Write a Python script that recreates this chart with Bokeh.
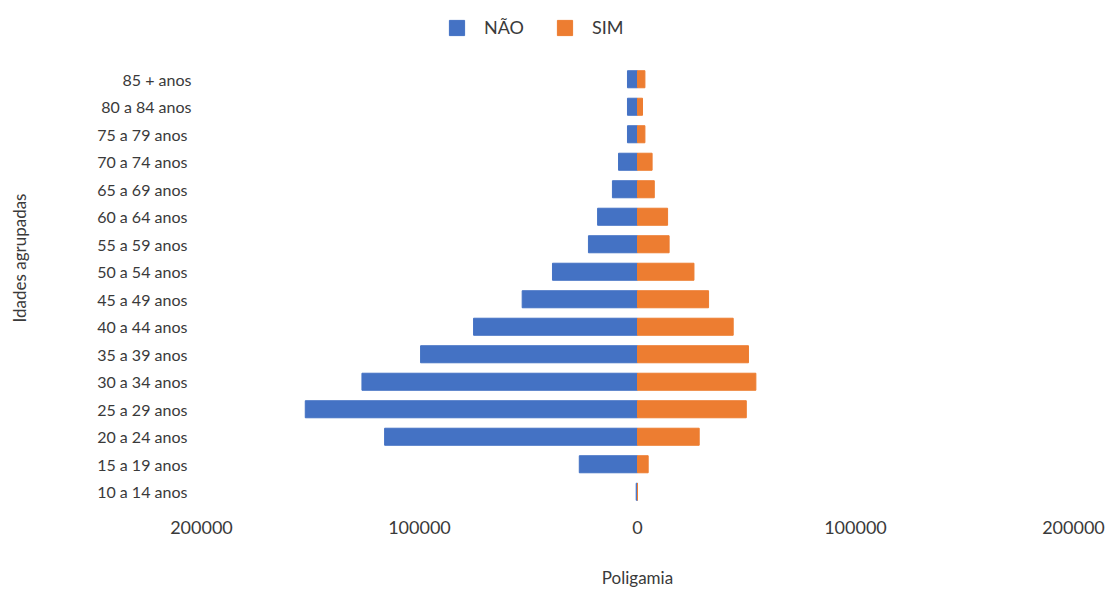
from bokeh.plotting import figure
from bokeh.models import ColumnDataSource, Range1d, FixedTicker, Legend, LegendItem
from bokeh.embed import file_html
from bokeh.resources import INLINE

# Age groups, youngest first (bottom of the pyramid)
age_groups = [
    "10 a 14  anos", "15 a 19  anos", "20 a 24  anos", "25 a 29  anos",
    "30 a 34  anos", "35 a 39  anos", "40 a 44  anos", "45 a 49  anos",
    "50 a 54  anos", "55 a 59  anos", "60 a 64  anos", "65 a 69  anos",
    "70 a 74  anos", "75 a 79  anos", "80 a 84 anos", "85 + anos",
]
nao = [600, 26700, 116000, 152400, 126400, 99500, 75200, 52900,
       39000, 22500, 18300, 11500, 8700, 4600, 4600, 4600]
sim = [0, 4900, 28300, 49900, 54300, 50900, 43900, 32600,
       25900, 14500, 13800, 7700, 6700, 3400, 2300, 3400]

x_ticks = [-200000, -100000, 0, 100000, 200000]
x_tick_labels = ["200000", "100000", "0", "100000", "200000"]

FONT = "Lato"
TEXT = "#3a3a3a"
BLUE = "#4472C4"
ORANGE = "#ED7D31"

# one row per age group; rows are indexed so the frame can leave room for the legend on top
rows = list(range(len(age_groups)))
src = ColumnDataSource(dict(
    row=rows,
    nao_left=[-v for v in nao],
    sim_right=sim,
))

p = figure(
    width=1110, height=592,
    y_range=Range1d(-0.5, len(age_groups) + 1.5),
    x_range=Range1d(-200000, 200000),
    output_backend="svg", toolbar_location=None,
    min_border_left=201, min_border_right=37,
    min_border_top=10, min_border_bottom=87,
)

r_nao = p.hbar(y="row", left="nao_left", right=0, height=0.62,
               color=BLUE, source=src)
r_sim = p.hbar(y="row", left=0, right="sim_right", height=0.62,
               color=ORANGE, source=src)

# horizontal legend above the bars (offset in pixels from the frame's bottom-left)
legend = Legend(items=[LegendItem(label="NÃO", renderers=[r_nao]),
                       LegendItem(label="SIM", renderers=[r_sim])],
                orientation="horizontal", location=(246, 467),
                glyph_width=19, glyph_height=19, label_standoff=18,
                spacing=31, padding=4, margin=0,
                label_text_font=FONT, label_text_font_size="18px",
                label_text_color=TEXT, border_line_color=None,
                background_fill_alpha=0)
p.add_layout(legend)

p.xaxis.ticker = FixedTicker(ticks=x_ticks)
p.xaxis.major_label_overrides = dict(zip(x_ticks, x_tick_labels))
p.yaxis.ticker = FixedTicker(ticks=rows)
p.yaxis.major_label_overrides = dict(zip(rows, age_groups))
p.xaxis.axis_label = "Poligamia"
p.yaxis.axis_label = "Idades agrupadas"

for ax in (p.xaxis, p.yaxis):
    ax.axis_line_color = None
    ax.major_tick_line_color = None
    ax.minor_tick_line_color = None
    ax.major_tick_out = 0
    ax.major_tick_in = 0
    ax.minor_tick_out = 0
    ax.minor_tick_in = 0
    ax.major_label_text_font = FONT
    ax.major_label_text_font_size = "16px"
    ax.major_label_text_color = TEXT
    ax.axis_label_text_font = FONT
    ax.axis_label_text_font_size = "17px"
    ax.axis_label_text_font_style = "normal"
    ax.axis_label_text_color = TEXT

p.xaxis.major_label_text_font_size = "18px"
p.xaxis.major_label_standoff = 15
p.xaxis.axis_label_standoff = 30
p.yaxis.major_label_standoff = 10
p.yaxis.axis_label_standoff = 64

p.xgrid.visible = False
p.ygrid.visible = False
p.outline_line_color = None

open("out.html", "w").write(file_html(p, INLINE))
